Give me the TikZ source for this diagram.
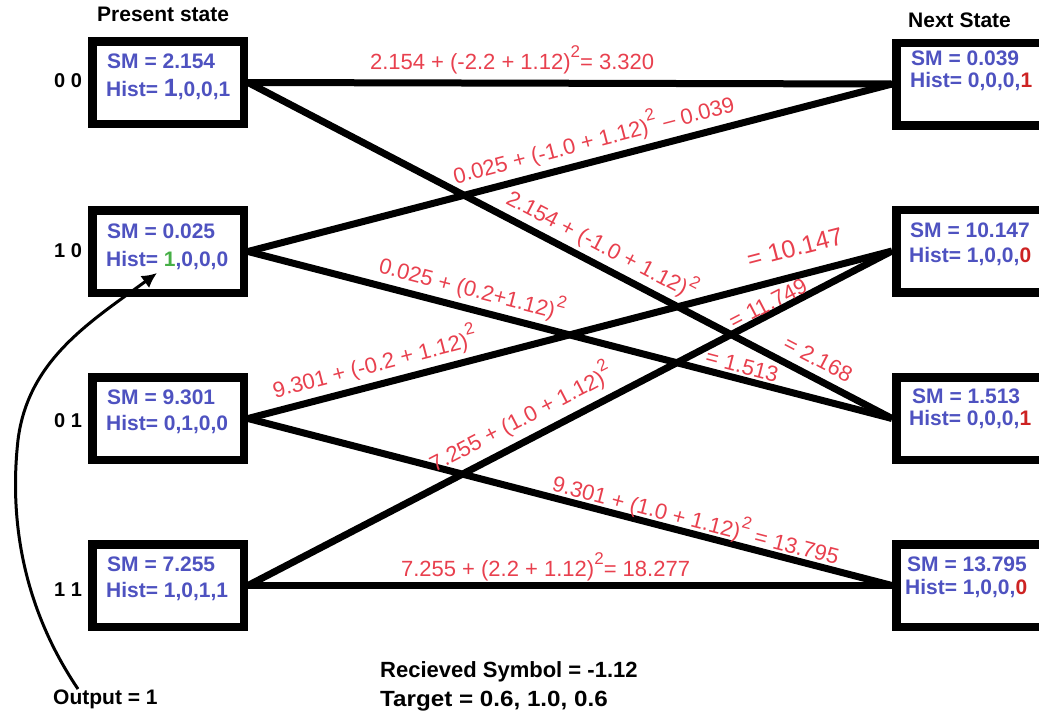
\documentclass[tikz,border=0pt]{standalone}
\usepackage{fontspec}
\setmainfont{Liberation Sans}
\usetikzlibrary{arrows.meta}
\definecolor{smblue}{RGB}{78,82,192}
\definecolor{lblred}{RGB}{232,64,78}
\definecolor{histred}{RGB}{205,35,35}
\definecolor{histgreen}{RGB}{70,175,70}
\newcommand{\sqd}{\raisebox{0.55em}{\fontsize{17}{17}\selectfont 2}}
\newcommand{\rd}[1]{\textcolor{histred}{#1}}
\begin{document}
\begin{tikzpicture}[x=1pt,y=-1pt,
  statebox/.style={draw=black, line width=8.5pt, minimum width=151.5pt, minimum height=82.5pt, inner sep=0pt},
  conn/.style={line width=7pt},
  boxtxt/.style={font=\fontsize{21}{24}\selectfont\bfseries, text=smblue, anchor=base west, inner sep=0pt},
  eqlbl/.style={font=\fontsize{22}{24}\selectfont, text=lblred, sloped, anchor=base, inner sep=0pt},
  statelbl/.style={font=\fontsize{20}{22}\selectfont\bfseries, anchor=west, inner sep=0pt},
  headlbl/.style={font=\fontsize{21}{24}\selectfont\bfseries, anchor=base west, inner sep=0pt},
  infolbl/.style={font=\fontsize{22}{26}\selectfont\bfseries, anchor=base west, inner sep=0pt}
]
\useasboundingbox (0,0) rectangle (1039,726);
\clip (0,0) rectangle (1039,726);

% headers
\node[headlbl] (hp) at (97,21) {Present state};
\node[headlbl] (hn) at (908,27) {Next State};

% left boxes
\node[statebox] (L0) at (168,82.5) {};
\node[statebox] (L1) at (168,251.5) {};
\node[statebox] (L2) at (168,418.5) {};
\node[statebox] (L3) at (168,585.5) {};
% right boxes
\node[statebox] (R0) at (972,84) {};
\node[statebox] (R1) at (972,251) {};
\node[statebox] (R2) at (972,418.5) {};
\node[statebox] (R3) at (972,585.5) {};

% state labels
\node[statelbl] (s00) at (54,81) {0 0};
\node[statelbl] (s10) at (54,251) {1 0};
\node[statelbl] (s01) at (54,421) {0 1};
\node[statelbl] (s11) at (54,590) {1 1};

% left box texts
\node[boxtxt] (L0a) at (107,68) {SM = 2.154};
\node[boxtxt] (L0b) at (106,96) {Hist= {\fontsize{25}{25}\selectfont 1},0,0,1};
\node[boxtxt] (L1a) at (107,238) {SM = 0.025};
\node[boxtxt] (L1b) at (106,266) {Hist= \textcolor{histgreen}{1},0,0,0};
\node[boxtxt] (L2a) at (107,404) {SM = 9.301};
\node[boxtxt] (L2b) at (106,430) {Hist= 0,1,0,0};
\node[boxtxt] (L3a) at (107,571) {SM = 7.255};
\node[boxtxt] (L3b) at (106,597) {Hist= 1,0,1,1};

% right box texts
\node[boxtxt] (R0a) at (911,65) {SM = 0.039};
\node[boxtxt] (R0b) at (910,87) {Hist= 0,0,0,\rd{1}};
\node[boxtxt] (R1a) at (910,237) {SM = 10.147};
\node[boxtxt] (R1b) at (909,262) {Hist= 1,0,0,\rd{0}};
\node[boxtxt] (R2a) at (912,403) {SM = 1.513};
\node[boxtxt] (R2b) at (909,425) {Hist= 0,0,0,\rd{1}};
\node[boxtxt] (R3a) at (907,571) {SM = 13.795};
\node[boxtxt] (R3b) at (905,594) {Hist= 1,0,0,\rd{0}};

% connectors
\draw[conn] (L0.east) -- (R0.west)
  node[eqlbl, pos=0.41, yshift=13.5pt] (lA) {2.154 + (-2.2 + 1.12)\sqd= 3.320};
\draw[conn] (L0.east) -- (R2.west)
  node[eqlbl, pos=0.535, yshift=12pt] (lB1) {2.154 + (-1.0 + 1.12)\sqd}
  node[eqlbl, pos=0.872, yshift=11pt] (lB2) {= 2.168};
\draw[conn] (L1.east) -- (R0.west)
  node[eqlbl, pos=0.545, yshift=13pt] (lC) {0.025 + (-1.0 + 1.12)\sqd\ -- 0.039};
\draw[conn] (L1.east) -- (R2.west)
  node[eqlbl, pos=0.34, yshift=12pt] (lD1) {0.025 + (0.2+1.12)\sqd}
  node[eqlbl, pos=0.762, yshift=6pt] (lD2) {= 1.513};
\draw[conn] (L2.east) -- (R1.west)
  node[eqlbl, pos=0.205, yshift=13pt] (lE1) {9.301 + (-0.2 + 1.12)\sqd}
  node[eqlbl, pos=0.86, yshift=19pt, font=\fontsize{25}{26}\selectfont] (lE2) {= 10.147};
\draw[conn] (L2.east) -- (R3.west)
  node[eqlbl, pos=0.69, yshift=6pt] (lF) {9.301 + (1.0 + 1.12)\sqd\ = 13.795};
\draw[conn] (L3.east) -- (R1.west)
  node[eqlbl, pos=0.44, yshift=14.5pt] (lG1) {7.255 + (1.0 + 1.12)\sqd}
  node[eqlbl, pos=0.815, yshift=3pt] (lG2) {= 11.749};
\draw[conn] (L3.east) -- (R3.west)
  node[eqlbl, pos=0.462, yshift=9pt] (lH) {7.255 + (2.2 + 1.12)\sqd= 18.277};

% bottom info
\node[infolbl] (rs) at (380,677) {Recieved Symbol = -1.12};
\node[infolbl] (tg) at (380,706) {\scalebox{1.1}[1]{Target = 0.6, 1.0, 0.6}};

% output arrow
\node[headlbl] (out) at (53,704) {Output = 1};
\coordinate (arrS) at (78,689);
\coordinate (arrE) at (157,273);
\draw[line width=3pt, -{Latex[length=15pt,width=15pt]}]
  (arrS) .. controls (28,615) and (8,530) .. (18,440)
         .. controls (28,360) and (90,322) .. (arrE);
\end{tikzpicture}
\end{document}
